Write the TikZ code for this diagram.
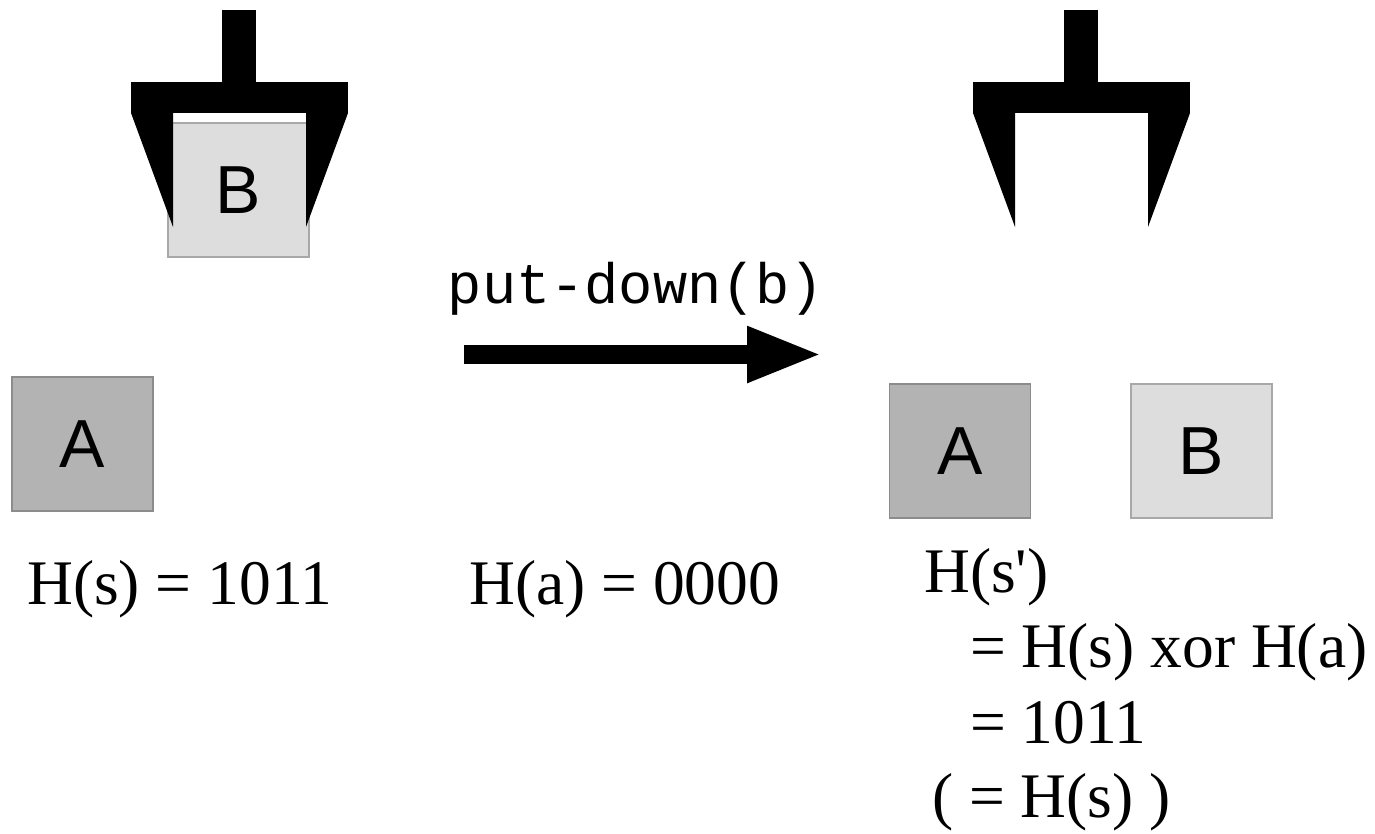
\documentclass[tikz,border=0pt]{standalone}
\usepackage{fontspec}
\setmainfont{Liberation Serif}
\setsansfont{Liberation Sans}
\setmonofont{Liberation Mono}
\usetikzlibrary{arrows.meta}

\definecolor{darkblock}{HTML}{B3B3B3}
\definecolor{darkedge}{HTML}{8C8C8C}
\definecolor{lightblock}{HTML}{DDDDDD}
\definecolor{lightedge}{HTML}{A8A8A8}

\tikzset{
  block/.style={inner sep=0pt, line width=1.5pt, minimum width=141pt, minimum height=134pt,
    font=\sffamily\fontsize{68}{68}\selectfont},
  blockA/.style={block, fill=darkblock, draw=darkedge},
  blockB/.style={block, fill=lightblock, draw=lightedge},
  formula/.style={inner sep=0pt, anchor=base west, font=\rmfamily\fontsize{63.5}{76}\selectfont},
  actionlabel/.style={inner sep=0pt, anchor=base, font=\ttfamily\fontsize{57}{57}\selectfont},
  bigarrow/.style={line width=19pt, -{Triangle[length=76pt, width=51pt]}},
}

% draws a gripper whose crossbar starts at x = #1
\newcommand{\gripperat}[1]{%
  \begin{scope}[xshift=#1pt]
    \fill (91,10) rectangle (125,82);
    \fill (0,82) rectangle (217,113);
    \fill (0,113) -- (42,113) -- (42,227) -- cycle;
    \fill (217,113) -- (175,113) -- (175,227) -- cycle;
  \end{scope}}

\begin{document}
\begin{tikzpicture}[x=1pt, y=-1pt]
  \useasboundingbox (0,0) rectangle (1375,833);

  % state s: block B held in the gripper, block A on the table
  \node[blockB] (Bheld) at (238.5,190) {B};
  \gripperat{131}
  \node[blockA] (Aleft) at (82.5,444) {A};

  % state s': gripper empty, both blocks on the table
  \gripperat{973}
  \node[blockA] (Aright) at (960,451) {A};
  \node[blockB] (Bright) at (1201.5,451) {B};

  % the action
  \node[actionlabel] (act) at (636,303) {put-down(b)};
  \coordinate (arrowtail) at (464,354.5);
  \coordinate (arrowtip) at (823,354.5);
  \draw[bigarrow] (arrowtail) -- (arrowtip);

  % hash values
  \node[formula] (hs) at (27,604) {H(s) = 1011};
  \node[formula] (ha) at (469,604) {H(a) = 0000};
  \node[formula] (hs1) at (924,592) {H(s\textquotesingle)};
  \node[formula] (hs2) at (970,667) {= H(s) xor H(a)};
  \node[formula] (hs3) at (970,743) {= 1011};
  \node[formula] (hs4) at (932,817) {( = H(s) )};
\end{tikzpicture}
\end{document}
